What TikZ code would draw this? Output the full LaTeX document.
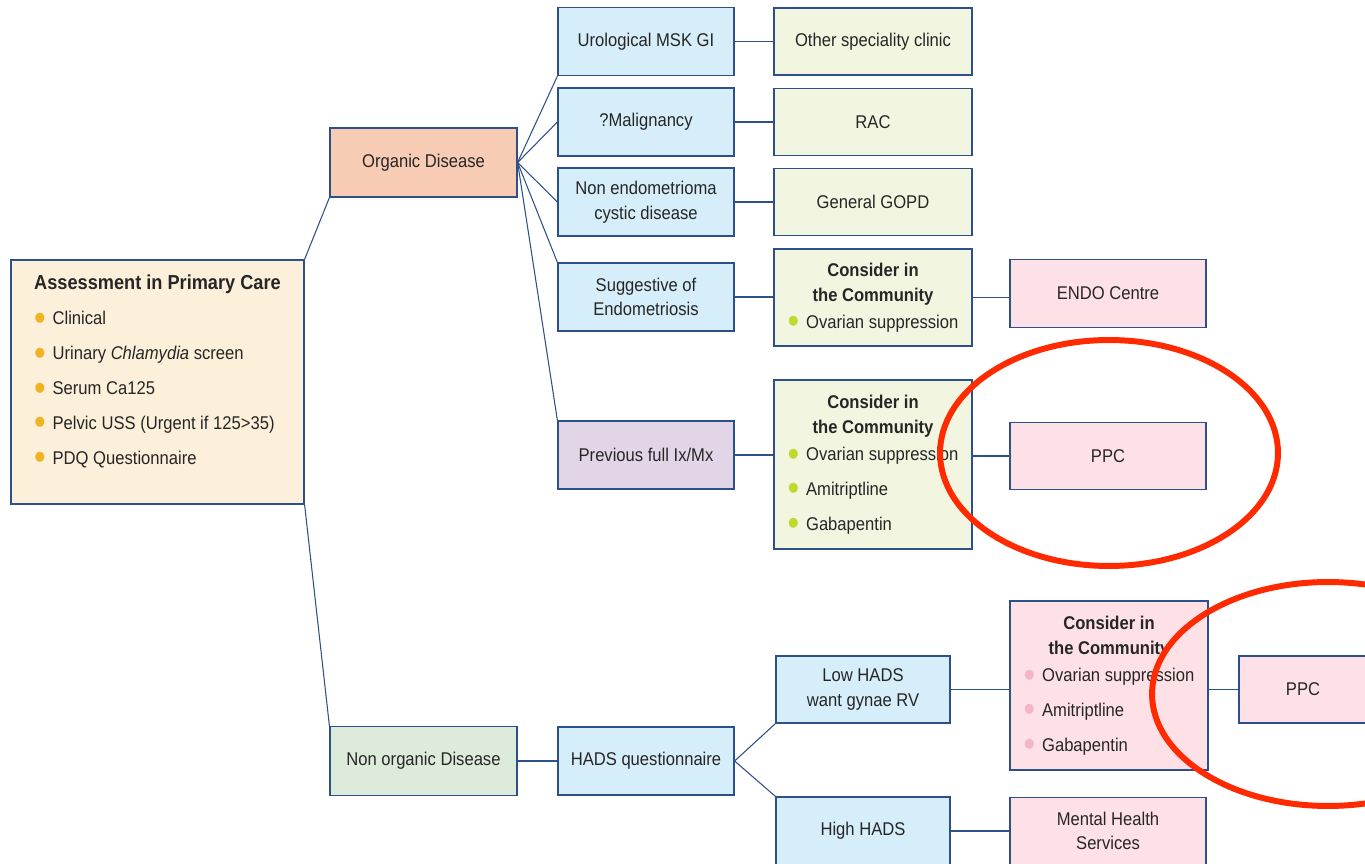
\documentclass[tikz,border=0pt]{standalone}
\usepackage{fontspec}
\setmainfont[FakeStretch=0.9]{Liberation Sans}
\usepackage{xcolor}
\usepackage{tikz}

\definecolor{edge}{HTML}{2D4F8A}
\definecolor{ink}{HTML}{262626}
\definecolor{cream}{HTML}{FCF0DA}
\definecolor{salmon}{HTML}{F8CBB5}
\definecolor{mint}{HTML}{DDEBDA}
\definecolor{skyblue}{HTML}{D6EEF9}
\definecolor{lavender}{HTML}{E2D5E8}
\definecolor{lime}{HTML}{F2F6E0}
\definecolor{rose}{HTML}{FDE1E6}
\definecolor{dotyellow}{HTML}{F0B323}
\definecolor{dotgreen}{HTML}{C1D82F}
\definecolor{dotpink}{HTML}{F4B6C6}
\definecolor{ringred}{HTML}{FF2A00}

\newcommand{\itm}[2]{\makebox[10.5pt][l]{\textcolor{#1}{\raisebox{-0.3em}{\scalebox{2}{\textbullet}}}}#2}

\begin{document}
\begin{tikzpicture}[x=0.02cm, y=-0.02cm, every node/.style={rectangle, draw=edge, line width=0.7pt, align=center, text=ink, inner sep=2pt, font=\fontsize{10.5}{14}\selectfont}, link/.style={draw=edge, line width=0.6pt}, ring/.style={draw=ringred, line width=3.4pt}, colA/.style={minimum width=3.52cm, minimum height=1.36cm}, colB/.style={minimum width=3.96cm, minimum height=1.34cm}, colC/.style={minimum width=3.92cm, minimum height=1.35cm}]
    \useasboundingbox (0,0) rectangle (1365,864);

    \node[fill=cream, minimum width=5.86cm, minimum height=4.88cm] (assess) at (157.5,382) {\begin{tabular}{@{}l@{}}\multicolumn{1}{@{}c@{}}{\fontsize{11.5}{14}\selectfont\textbf{Assessment in Primary Care}}\\[6.4pt] \itm{dotyellow}{Clinical}\\[5.8pt] \itm{dotyellow}{Urinary \textit{Chlamydia} screen}\\[5.8pt] \itm{dotyellow}{Serum Ca125}\\[5.8pt] \itm{dotyellow}{Pelvic USS (Urgent if 125>35)}\\[5.8pt] \itm{dotyellow}{PDQ Questionnaire}\rule[-16pt]{0pt}{0pt}\end{tabular}};
    \node[fill=salmon, minimum width=3.74cm, minimum height=1.38cm] (organic) at (423.5,162.5) {Organic Disease};
    \node[fill=mint, minimum width=3.74cm, minimum height=1.38cm] (nonorganic) at (423.5,761) {Non organic Disease};

    \node[colA, fill=skyblue] (uro) at (646,41.5) {Urological MSK GI};
    \node[colA, fill=skyblue] (malig) at (646,122) {?Malignancy};
    \node[colA, fill=skyblue] (nonendo) at (646,202) {Non endometrioma\\cystic disease};
    \node[colA, fill=skyblue] (suggest) at (646,297) {Suggestive of\\Endometriosis};
    \node[colA, fill=lavender] (previous) at (646,455) {Previous full Ix/Mx};
    \node[colA, fill=skyblue] (hads) at (646,761) {HADS questionnaire};

    \node[colB, fill=lime] (other) at (873,41.5) {Other speciality clinic};
    \node[colB, fill=lime] (rac) at (873,122) {RAC};
    \node[colB, fill=lime] (gopd) at (873,202) {General GOPD};
    \node[colB, fill=lime, minimum height=1.94cm] (commA) at (873,297.5) {\begin{tabular}{@{}l@{}}\multicolumn{1}{@{}c@{}}{\textbf{Consider in}}\\ \multicolumn{1}{@{}c@{}}{\textbf{the Community}}\\[1.6pt] \itm{dotgreen}{Ovarian suppression}\end{tabular}};
    \node[colB, fill=lime, minimum height=3.38cm] (commB) at (873,464.5) {\begin{tabular}{@{}l@{}}\multicolumn{1}{@{}c@{}}{\textbf{Consider in}}\\ \multicolumn{1}{@{}c@{}}{\textbf{the Community}}\\[1.6pt] \itm{dotgreen}{Ovarian suppression}\\[5.8pt] \itm{dotgreen}{Amitriptline}\\[5.8pt] \itm{dotgreen}{Gabapentin}\end{tabular}};
    \node[minimum width=3.48cm, minimum height=1.34cm, fill=skyblue] (lowhads) at (863,689.5) {Low HADS\\want gynae RV};
    \node[minimum width=3.48cm, minimum height=1.36cm, fill=skyblue] (highhads) at (863,831) {High HADS};

    \node[colC, fill=rose] (endo) at (1108,293.5) {ENDO Centre};
    \node[colC, fill=rose] (ppcA) at (1108,456) {PPC};
    \node[fill=rose, minimum width=3.96cm, minimum height=3.38cm] (commC) at (1109,685.5) {\begin{tabular}{@{}l@{}}\multicolumn{1}{@{}c@{}}{\textbf{Consider in}}\\ \multicolumn{1}{@{}c@{}}{\textbf{the Community}}\\[1.6pt] \itm{dotpink}{Ovarian suppression}\\[5.8pt] \itm{dotpink}{Amitriptline}\\[5.8pt] \itm{dotpink}{Gabapentin}\end{tabular}};
    \node[colC, fill=rose] (mental) at (1108,831) {Mental Health\\Services};
    \node[fill=rose, minimum width=2.56cm, minimum height=1.34cm] (ppcB) at (1303,689.5) {PPC};

    \draw[link] (assess.north east) -- (organic.south west);
    \draw[link] (assess.south east) -- (nonorganic.north west);
    \draw[link] (organic.east) -- (uro.south west);
    \draw[link] (organic.east) -- (malig.west);
    \draw[link] (organic.east) -- (nonendo.west);
    \draw[link] (organic.east) -- (suggest.north west);
    \draw[link] (organic.east) -- (previous.north west);
    \draw[link] (uro) -- (other);
    \draw[link] (malig) -- (rac);
    \draw[link] (nonendo) -- (gopd);
    \draw[link] (suggest.east) -- (suggest.east -| commA.west);
    \draw[link] (commA.east) -- (commA.east -| endo.west);
    \draw[link] (previous.east) -- (previous.east -| commB.west);
    \draw[link] (commB.east |- ppcA.west) -- (ppcA.west);
    \draw[link] (nonorganic) -- (hads);
    \draw[link] (hads.east) -- (lowhads.south west);
    \draw[link] (hads.east) -- (highhads.north west);
    \draw[link] (lowhads.east) -- (lowhads.east -| commC.west);
    \draw[link] (commC.east |- ppcB.west) -- (ppcB.west);
    \draw[link] (highhads) -- (mental);

    \draw[ring] (1109,453) ellipse [x radius=3.38cm, y radius=2.26cm];
    \draw[ring] (1328,694) ellipse [x radius=3.52cm, y radius=2.24cm];
\end{tikzpicture}
\end{document}
